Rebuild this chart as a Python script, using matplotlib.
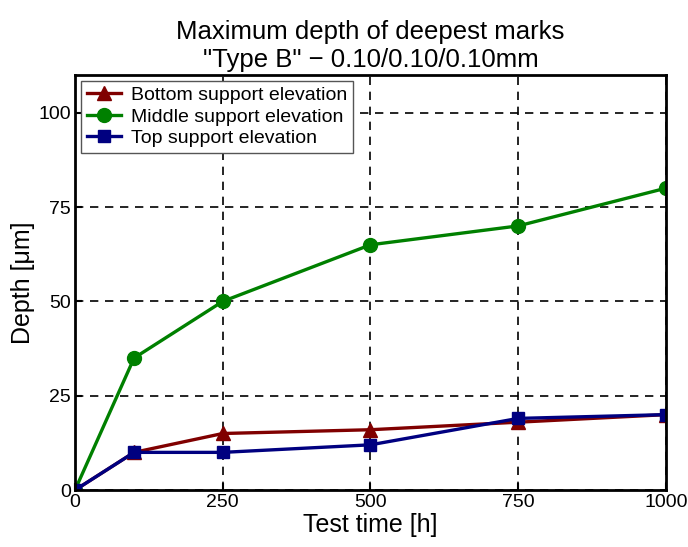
import numpy as np
from matplotlib import pyplot as plt

plt.rcParams['font.family'] = ['Liberation Sans', 'DejaVu Sans']

time_h = [0, 100, 250, 500, 750, 1000]
bottom_depth = [0, 10, 15, 16, 18, 20]
middle_depth = [0, 35, 50, 65, 70, 80]
top_depth = [0, 10, 10, 12, 19, 20]

x_ticks = [0, 250, 500, 750, 1000]
y_ticks = [0, 25, 50, 75, 100]

fig = plt.figure(figsize=(6.88, 5.47), dpi=100)
ax = fig.add_axes([0.109, 0.104, 0.859, 0.759])

ax.plot(time_h, bottom_depth, color='#800000', marker='^', markersize=10,
        linewidth=2.4, label='Bottom support elevation')
ax.plot(time_h, middle_depth, color='#008000', marker='o', markersize=10,
        linewidth=2.4, label='Middle support elevation')
ax.plot(time_h, top_depth, color='#000080', marker='s', markersize=9,
        linewidth=2.4, label='Top support elevation')

ax.set_xlim(0, 1000)
ax.set_ylim(0, 110)
ax.set_xticks(x_ticks)
ax.set_yticks(y_ticks)
ax.tick_params(direction='in', length=5, width=1.5, labelsize=14, pad=3)
ax.grid(True, color='black', linestyle=(0, (5, 4)), linewidth=1.2)
for s in ax.spines.values():
    s.set_linewidth(2)

ax.set_xlabel('Test time [h]', fontsize=18, labelpad=1)
ax.set_ylabel('Depth [μm]', fontsize=18, labelpad=2)
ax.set_title('Maximum depth of deepest marks\n"Type B" \u2212 0.10/0.10/0.10mm',
             fontsize=18.5, pad=6, linespacing=1.2)

lgd = ax.legend(loc='upper left', fontsize=14, fancybox=False, framealpha=1,
                edgecolor='#555555', borderaxespad=0.3, handlelength=1.75,
                labelspacing=0.2, borderpad=0.3, handletextpad=0.55)
lgd.get_frame().set_linewidth(1)

fig.savefig('out.png', dpi=100)
